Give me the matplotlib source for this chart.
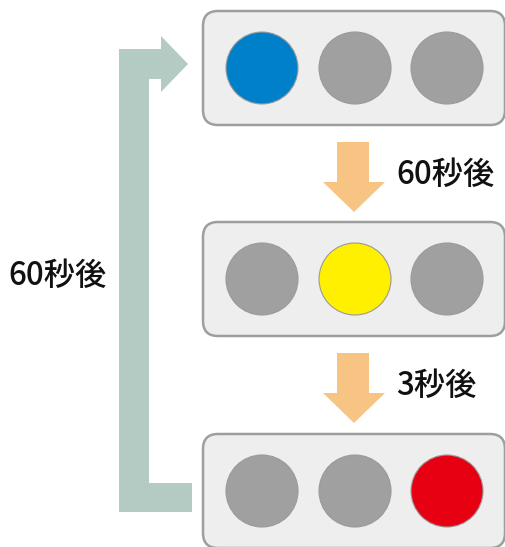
import matplotlib
matplotlib.use("Agg")
import matplotlib.pyplot as plt
from matplotlib.patches import FancyBboxPatch, Circle, Polygon

plt.rcParams['font.family'] = ['Noto Sans CJK JP', 'DejaVu Sans']

# States of the signal (one row per box): colour of each lamp
states = [
    ["#0080c8", "#a0a0a0", "#a0a0a0"],
    ["#a0a0a0", "#fff000", "#a0a0a0"],
    ["#a0a0a0", "#a0a0a0", "#e60012"],
]
step_labels = ["60秒後", "3秒後"]
loop_label = "60秒後"

W, H = 506, 547
fig = plt.figure(figsize=(W / 100, H / 100), dpi=100)
ax = fig.add_axes([0, 0, 1, 1])
ax.set_xlim(0, W)
ax.set_ylim(H, 0)
ax.axis("off")

box_x0, box_x1 = 203, 505
box_tops = [11, 222, 434]
box_h = 114
lamp_x = [262, 355, 447]
lamp_r = 36

for top, cols in zip(box_tops, states):
    ax.add_patch(FancyBboxPatch((box_x0, top), box_x1 - box_x0, box_h,
                                boxstyle="round,pad=0,rounding_size=15",
                                fc="#eeeeee", ec="#9e9e9e", lw=1.8, zorder=2))
    cy = top + box_h / 2
    for x, c in zip(lamp_x, cols):
        ax.add_patch(Circle((x, cy), lamp_r, fc=c, ec="#9a9a9a", lw=0.8, zorder=3))

# orange down arrows between boxes
for i, lab in enumerate(step_labels):
    y0 = box_tops[i] + 131
    pts = [(337, y0), (369, y0), (369, y0 + 40), (385, y0 + 40),
           (354, y0 + 70), (323, y0 + 40), (337, y0 + 40)]
    ax.add_patch(Polygon(pts, closed=True, fc="#f8c483", ec="none", zorder=2))
    ax.text(396, y0 + 33, lab, fontsize=22.5, ha="left", va="center",
            fontweight="medium", color="#111111")

# green loop arrow
g = [(192, 483), (192, 512), (119, 512), (119, 49), (161, 49), (161, 36),
     (188, 64), (161, 92), (161, 79), (149, 79), (149, 483)]
ax.add_patch(Polygon(g, closed=True, fc="#b3cbc3", ec="none", zorder=1))
ax.text(8, 276, loop_label, fontsize=22.5, ha="left", va="center",
        fontweight="medium", color="#111111")

fig.savefig("out.png", dpi=100)
